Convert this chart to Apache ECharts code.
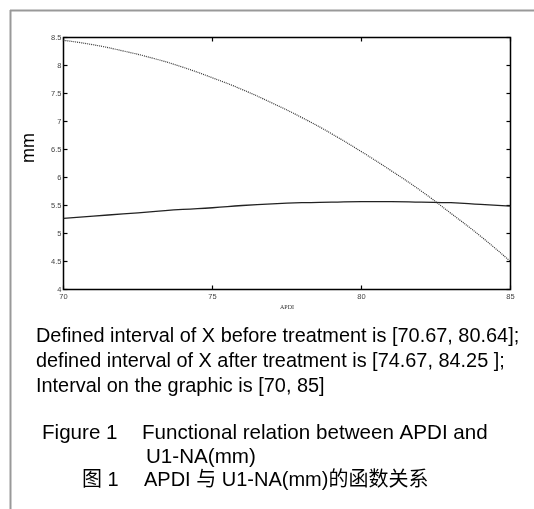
<!DOCTYPE html>
<html><head><meta charset="utf-8">
<script src="https://cdn.jsdelivr.net/npm/echarts@6/dist/echarts.min.js"></script>
<style>html,body{margin:0;padding:0;background:#fff}#c{width:534px;height:509px}</style>
</head><body><div id="c"></div>
<script>
var xValues = [70,71,72,73,74,75,76,77,78,79,80,81,82,83,84,85];
var solidValues = [5.27,5.31,5.35,5.39,5.43,5.46,5.50,5.53,5.55,5.56,5.57,5.57,5.56,5.55,5.52,5.49];
var dottedValues = [8.45,8.37,8.26,8.13,7.97,7.78,7.57,7.33,7.07,6.78,6.46,6.12,5.76,5.36,4.95,4.50];
var xTicks = [70,75,80,85];
var yTicks = [4,4.5,5,5.5,6,6.5,7,7.5,8,8.5];
var captionLines = [
  'Defined interval of X before treatment is [70.67, 80.64];',
  'defined interval of X after treatment is [74.67, 84.25 ];',
  'Interval on the graphic is [70, 85]'
];
var figLabelEn = 'Figure 1';
var figTitleEn1 = 'Functional relation between APDI and';
var figTitleEn2 = 'U1-NA(mm)';
var figLabelZh = '图 1';
var figTitleZh = 'APDI 与 U1-NA(mm)的函数关系';

function pairs(ys){ return xValues.map(function(x,i){ return [x, ys[i]]; }); }

var chart = echarts.init(document.getElementById('c'));
var tickLbl = {fontSize:7.5, color:'#444', fontFamily:'Liberation Sans'};
var txt = 'Liberation Sans, Arial, sans-serif';
var cjk = '"Liberation Sans", "Noto Sans CJK SC", sans-serif';
function tk(){ return {show:true, inside:true, length:4, lineStyle:{color:'#000', width:1.2}}; }
var opt = {
  animation:false,
  grid:{left:63.5, top:37.5, right:23.5, bottom:219.5, show:true, borderColor:'#000', borderWidth:1.5},
  xAxis:[{
    type:'value', min:70, max:85, interval:5, position:'bottom',
    axisLine:{show:false}, axisTick:tk(), splitLine:{show:false},
    axisLabel:Object.assign({margin:3}, tickLbl)
  },{
    type:'value', min:70, max:85, interval:5, position:'top',
    axisLine:{show:false}, axisTick:tk(), splitLine:{show:false}, axisLabel:{show:false}
  }],
  yAxis:[{
    type:'value', min:4, max:8.5, interval:0.5, position:'left',
    axisLine:{show:false}, axisTick:tk(), splitLine:{show:false},
    axisLabel:Object.assign({margin:2}, tickLbl)
  },{
    type:'value', min:4, max:8.5, interval:0.5, position:'right',
    axisLine:{show:false}, axisTick:tk(), splitLine:{show:false}, axisLabel:{show:false}
  }],
  series:[{
    type:'line', data:pairs(solidValues), smooth:true, symbol:'none',
    lineStyle:{color:'#222', width:1.3}
  },{
    type:'line', data:pairs(dottedValues), smooth:true, symbol:'none',
    lineStyle:{color:'#333', width:1.2, type:[1,1]}
  }],
  graphic:[
    {type:'line', shape:{x1:10.5, y1:10, x2:10.5, y2:509}, style:{stroke:'#999', lineWidth:2}},
    {type:'line', shape:{x1:10, y1:10.5, x2:534, y2:10.5}, style:{stroke:'#999', lineWidth:2}},
    {type:'text', x:29, y:148, rotation:Math.PI/2, style:{text:'mm', font:'18px '+txt, fill:'#000', textAlign:'center', textVerticalAlign:'middle'}},
    {type:'text', x:287, y:307, style:{text:'APDI', font:'6px "Liberation Serif", serif', fill:'#333', textAlign:'center', textVerticalAlign:'middle'}},
    {type:'text', x:36, y:337, style:{text:captionLines[0], font:'19.9px '+txt, fill:'#000', textVerticalAlign:'middle'}},
    {type:'text', x:36, y:362, style:{text:captionLines[1], font:'19.9px '+txt, fill:'#000', textVerticalAlign:'middle'}},
    {type:'text', x:36, y:387, style:{text:captionLines[2], font:'19.9px '+txt, fill:'#000', textVerticalAlign:'middle'}},
    {type:'text', x:42, y:433, style:{text:figLabelEn, font:'20.6px '+txt, fill:'#000', textVerticalAlign:'middle'}},
    {type:'text', x:142, y:433, style:{text:figTitleEn1, font:'20.6px '+txt, fill:'#000', textVerticalAlign:'middle'}},
    {type:'text', x:146, y:457, style:{text:figTitleEn2, font:'20.6px '+txt, fill:'#000', textVerticalAlign:'middle'}},
    {type:'text', x:82, y:480, style:{text:figLabelZh, font:'20px '+cjk, fill:'#000', textVerticalAlign:'middle'}},
    {type:'text', x:144, y:480, style:{text:figTitleZh, font:'20px '+cjk, fill:'#000', textVerticalAlign:'middle'}}
  ]
};
chart.setOption(opt);
</script></body></html>
